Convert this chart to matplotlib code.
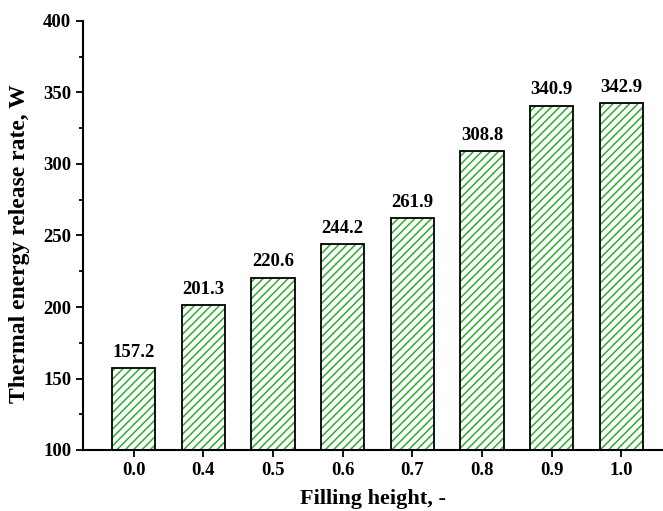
import matplotlib
matplotlib.use('Agg')
from matplotlib import pyplot as plt
import numpy as np

heights = ['0.0', '0.4', '0.5', '0.6', '0.7', '0.8', '0.9', '1.0']
rates = [157.2, 201.3, 220.6, 244.2, 261.9, 308.8, 340.9, 342.9]

plt.rcParams['font.family'] = 'serif'
plt.rcParams['font.serif'] = ['Liberation Serif', 'Times New Roman', 'DejaVu Serif']
plt.rcParams['font.weight'] = 'bold'
plt.rcParams['hatch.linewidth'] = 1.1

fig = plt.figure(figsize=(6.63, 5.11), dpi=100)
ax = fig.add_axes([83/663, 1 - 450/511, 1 - 83/663, (450 - 21)/511])

x = np.arange(len(heights))
# hatch in green, outline in black
ax.bar(x, np.array(rates) - 100, bottom=100, width=0.62, color='white',
       edgecolor='#2cb02c', hatch='////', linewidth=0, zorder=2)
ax.bar(x, np.array(rates) - 100, bottom=100, width=0.62, fill=False,
       edgecolor='black', linewidth=1.3, zorder=3)

for xi, v in zip(x, rates):
    ax.text(xi, v + 5, '%.1f' % v, ha='center', va='bottom', fontsize=13.5, fontweight='bold')

ax.set_xlim(-0.73, 7.6)
ax.set_ylim(100, 400)
ax.set_xticks(x)
ax.set_xticklabels(heights)
ax.set_yticks(np.arange(100, 401, 50))
ax.set_yticks(np.arange(125, 400, 50), minor=True)
ax.tick_params(axis='both', labelsize=13.5, width=1.3, length=5)
ax.tick_params(axis='y', which='minor', width=1.3, length=3)
for s in ['top', 'right']:
    ax.spines[s].set_visible(False)
for s in ['left', 'bottom']:
    ax.spines[s].set_linewidth(1.5)

ax.set_xlabel('Filling height, -', fontsize=16, fontweight='bold', va='center')
ax.xaxis.set_label_coords(0.5, -0.114)
ax.set_ylabel('Thermal energy release rate, W', fontsize=17, fontweight='bold', va='center')
ax.yaxis.set_label_coords(-0.109, 0.48)

fig.savefig('out.png', dpi=100)
